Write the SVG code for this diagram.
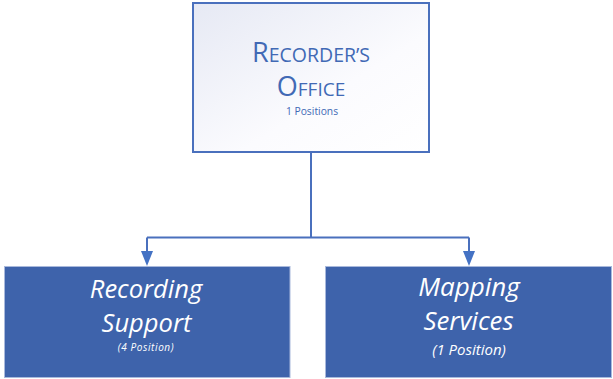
<svg xmlns="http://www.w3.org/2000/svg" width="613" height="379" viewBox="0 0 613 379">
  <defs>
    <linearGradient id="headFill" x1="0" y1="0" x2="1" y2="1">
      <stop offset="0" stop-color="#e6e9f4"/>
      <stop offset="0.6" stop-color="#fbfbfe"/>
      <stop offset="1" stop-color="#ffffff"/>
    </linearGradient>
    <style>
      .head { fill: url(#headFill); stroke: #4a70bd; stroke-width: 2; }
      .unit { fill: #3e63ab; stroke: #a9b9dc; stroke-width: 1; }
      .link { fill: none; stroke: #4a70bd; stroke-width: 2; }
      .tip { fill: #4472c4; }
      .hd { font-family: "Open Sans", "Noto Sans", sans-serif; fill: #4169b5; text-anchor: middle; }
      .ut { font-family: "Open Sans", "Noto Sans", sans-serif; fill: #ffffff; font-style: italic; text-anchor: middle; }
    </style>
  </defs>

  <!-- connectors -->
  <g id="connectors">
    <path class="link" d="M311,152 V237.5"/>
    <path class="link" d="M147,237.5 H469"/>
    <path class="link" d="M147,237.5 V252"/>
    <path class="link" d="M469,237.5 V252"/>
    <path class="tip" d="M141,251 L153,251 L147,266 Z"/>
    <path class="tip" d="M463,251 L475,251 L469,266 Z"/>
  </g>

  <!-- top node -->
  <g id="recorders-office">
    <rect class="head" x="193" y="3" width="236" height="149"/>
    <text class="hd" x="311" y="62"><tspan font-size="27">R</tspan><tspan font-size="19.5">ECORDER’S</tspan></text>
    <text class="hd" x="311" y="96"><tspan font-size="27">O</tspan><tspan font-size="19">FFICE</tspan></text>
    <text class="hd" x="312" y="115" font-size="10.3">1 Positions</text>
  </g>

  <!-- left child -->
  <g id="recording-support">
    <rect class="unit" x="4.5" y="266.5" width="285.5" height="111"/>
    <text class="ut" x="146" y="298" font-size="25.5">Recording</text>
    <text class="ut" x="146.5" y="332" font-size="25.5">Support</text>
    <text class="ut" x="146" y="351" font-size="10" letter-spacing="0.6">(4 Position)</text>
  </g>

  <!-- right child -->
  <g id="mapping-services">
    <rect class="unit" x="325.5" y="266.5" width="286" height="111"/>
    <text class="ut" x="469" y="296" font-size="26">Mapping</text>
    <text class="ut" x="468.5" y="330" font-size="25.8">Services</text>
    <text class="ut" x="469" y="355" font-size="15">(1 Position)</text>
  </g>
</svg>
